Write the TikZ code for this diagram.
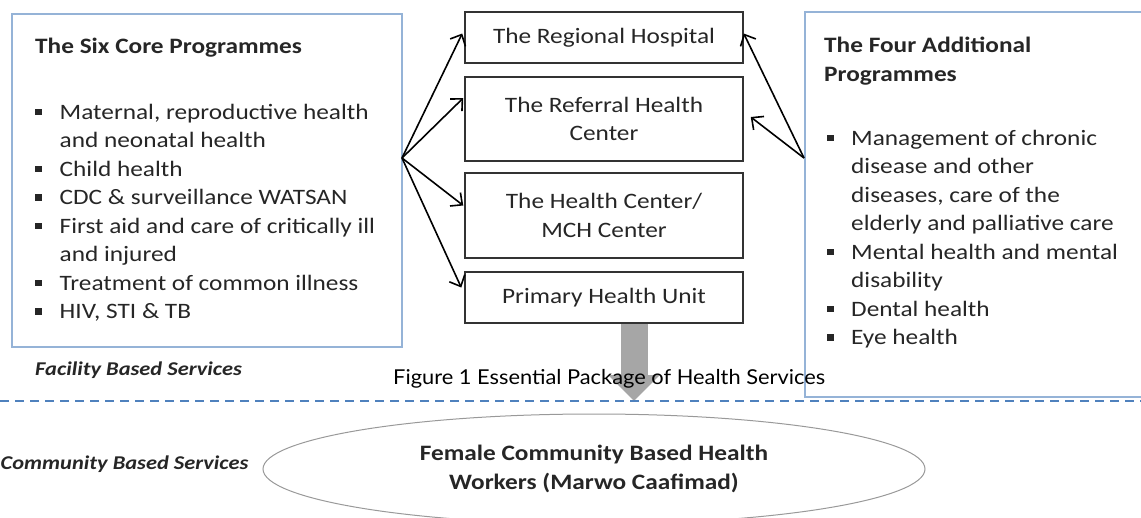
\documentclass[tikz,border=0pt]{standalone}
\usepackage{fontspec}
\setmainfont[FakeStretch=1.15]{Carlito}
\newfontfamily\capfont[FakeStretch=1.065]{Lato}
\usetikzlibrary{calc,arrows.meta,shapes.geometric}
\definecolor{boxblue}{HTML}{95B3D7}
\definecolor{dashblue}{HTML}{4F81BD}
\definecolor{txtgray}{HTML}{262626}
\definecolor{arrowgray}{HTML}{A6A6A6}
\newcommand{\sqbul}{\raisebox{4pt}{\rule{6.5pt}{6.5pt}}}
\tikzset{
	progbox/.style={draw=boxblue, line width=1.6pt, inner sep=0pt},
	levelbox/.style={draw=black!80, line width=1.5pt, minimum width=278pt, inner sep=0pt, align=center, text=txtgray, font=\fontsize{22}{28.5}\selectfont},
	progtitle/.style={anchor=west, inner sep=0pt, align=left, text=txtgray, font=\bfseries\fontsize{22}{28.5}\selectfont},
	proglist/.style={anchor=north west, inner sep=0pt, text=txtgray, font=\fontsize{22}{28.5}\selectfont},
	sidelabel/.style={inner sep=0pt, text=txtgray, font=\bfseries\itshape\fontsize{19.5}{22}\selectfont},
	refer/.style={line width=1.6pt, -{Straight Barb[length=9pt, width=17pt]}},
}

\begin{document}
\begin{tikzpicture}[x=1pt, y=-1pt]
	%%%%% START %%%%%
	\useasboundingbox (0, 0) rectangle (1141, 517);
	
	% programme boxes
	\node[progbox, minimum width=390pt, minimum height=333pt] (core) at (207, 180.5) {};
	\node[progbox, minimum width=360pt, minimum height=385pt] (extra) at (985, 204.5) {};
	
	\node[progtitle] (coretitle) at (35, 48) {The Six Core Programmes};
	\node[proglist] (corelist) at (35, 99) {%
		\begin{tabular}{@{}p{24.5pt}@{}l@{}}
			\sqbul & Maternal, reproductive health\\
			& and neonatal health\\
			\sqbul & Child health\\
			\sqbul & CDC \& surveillance WATSAN\\
			\sqbul & First aid and care of critically ill\\
			& and injured\\
			\sqbul & Treatment of common illness\\
			\sqbul & HIV, STI \& TB
		\end{tabular}};
	
	\node[progtitle] (extratitle) at (824, 61) {The Four Additional\\Programmes};
	\node[proglist] (extralist) at (827, 125) {%
		\begin{tabular}{@{}p{24pt}@{}l@{}}
			\sqbul & Management of chronic\\
			& disease and other\\
			& diseases, care of the\\
			& elderly and palliative care\\
			\sqbul & Mental health and mental\\
			& disability\\
			\sqbul & Dental health\\
			\sqbul & Eye health
		\end{tabular}};
	
	% levels of care
	\node[levelbox, minimum height=51pt] (hosp) at (604, 37.5) {The Regional Hospital};
	\node[levelbox, minimum height=84pt] (refer) at (604, 119) {The Referral Health\\Center};
	\node[levelbox, minimum height=85pt] (hcent) at (604, 215.5) {The Health Center/\\MCH Center};
	\node[levelbox, minimum height=51pt] (phu) at (604, 297.5) {Primary Health Unit};
	
	\coordinate (coreout) at (402, 158);
	\coordinate (extraout) at (804, 158);
	
	\draw[refer] (coreout) -- ($(hosp.west)+(-2, -4)$);
	\draw[refer] (coreout) -- ($(refer.west)+(-1, -21)$);
	\draw[refer] (coreout) -- ($(hcent.west)+(-1, -10)$);
	\draw[refer] (coreout) -- ($(phu.west)+(-3, -10)$);
	\draw[refer] (extraout) -- ($(hosp.east)+(0, -4)$);
	\draw[refer] (extraout) -- ($(refer.east)+(7, -2)$);
	
	% down to the community
	\coordinate (phudown) at (634, 401);
	\draw[arrowgray, line width=27pt, -{Triangle[length=26pt, width=50pt]}] ($(phu.south)+(30, 0)$) -- (phudown);
	
	\node[anchor=west, inner sep=0pt, font=\capfont\fontsize{20.5}{22}\selectfont] (caption) at (393, 379) {Figure 1 Essential Package of Health Services};
	
	\node[sidelabel, anchor=west] (facility) at (35, 370) {Facility Based Services};
	\draw[dashblue, line width=1.5pt, dash pattern=on 9pt off 6pt] (0, 401) -- (1141, 401);
	\node[sidelabel, anchor=west] (community) at (0.5, 464) {Community Based Services};
	
	\node[ellipse, draw=black!40, line width=1pt, minimum width=662pt, minimum height=110pt, align=center, text=txtgray, font=\bfseries\fontsize{22}{28.5}\selectfont] (fchw) at (594, 469) {Female Community Based Health\\Workers (Marwo Caafimad)};
	
	%%%%% END %%%%%
\end{tikzpicture}
\end{document}
